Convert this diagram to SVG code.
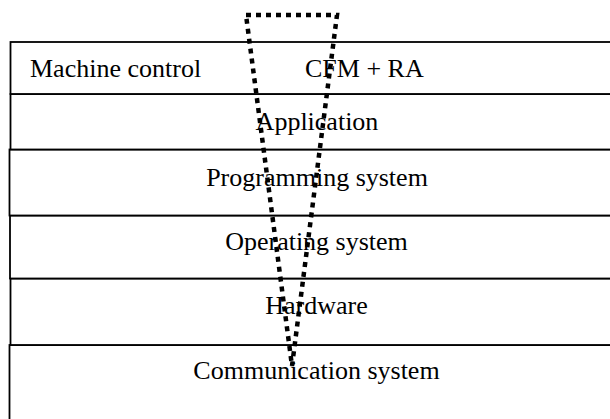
<svg xmlns="http://www.w3.org/2000/svg" width="610" height="419" viewBox="0 0 610 419">
  <style>
    .layer { fill: #ffffff; stroke: #000000; stroke-width: 1.8; }
    .label { font-family: "Liberation Serif", "Times New Roman", serif; font-size: 26px; fill: #000000; }
    .mid { text-anchor: middle; }
    .scope { fill: none; stroke: #000000; stroke-width: 4.5; stroke-dasharray: 5 5; stroke-linejoin: miter; }
  </style>
  <rect width="610" height="419" fill="#ffffff"/>

  <!-- layered stack, bottom to top -->
  <g id="communication-system">
    <rect class="layer" x="9.5" y="345" width="620" height="90"/>
    <text class="label mid" x="316.5" y="379">Communication system</text>
  </g>
  <g id="hardware">
    <rect class="layer" x="10.5" y="278.5" width="620" height="66.5"/>
    <text class="label mid" x="316.5" y="314">Hardware</text>
  </g>
  <g id="operating-system">
    <rect class="layer" x="10" y="215.5" width="620" height="63"/>
    <text class="label mid" x="316.5" y="250">Operating system</text>
  </g>
  <g id="programming-system">
    <rect class="layer" x="9.5" y="149.5" width="620" height="66"/>
    <text class="label mid" x="317" y="186">Programming system</text>
  </g>
  <g id="application">
    <rect class="layer" x="10.5" y="94" width="620" height="55.5"/>
    <text class="label mid" x="317" y="130">Application</text>
  </g>
  <g id="machine-control">
    <rect class="layer" x="10.5" y="42" width="620" height="52"/>
    <text class="label" x="30" y="77">Machine control</text>
    <text class="label" x="305" y="77">CFM + RA</text>
  </g>

  <!-- dotted scope wedge narrowing down through the layers -->
  <g id="connectors">
    <path class="scope" d="M246,15 L337,15 L292,366 Z"/>
  </g>
</svg>
